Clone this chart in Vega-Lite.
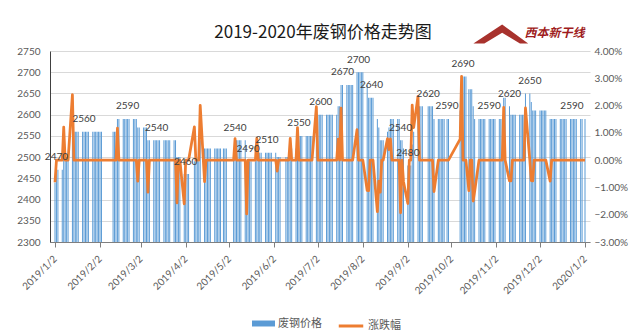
{
"$schema": "https://vega.github.io/schema/vega-lite/v6.json",
"width": 540, "height": 191,
"autosize": "none",
"padding": {"left": 50, "top": 51, "right": 54, "bottom": 92},
"background": "white",
"title": {"text": "2019-2020年废钢价格走势图", "font": "Noto Sans CJK SC", "fontSize": 17, "fontWeight": "normal", "color": "#1a1a1a", "anchor": "middle", "dx": 3, "dy": 26, "offset": 8},
"config": {"view": {"stroke": null}, "axis": {"labelFont": "Lato", "labelFontSize": 10, "labelColor": "#595959"}},
"datasets": {
"price": [
{"d":"2019/1/2","p":2440,"c":-0.81},{"d":"2019/1/3","p":2470,"c":0},{"d":"2019/1/4","p":2470,"c":0},{"d":"2019/1/7","p":2470,"c":0},{"d":"2019/1/8","p":2500,"c":1.21},{"d":"2019/1/9","p":2500,"c":0},{"d":"2019/1/10","p":2500,"c":0},{"d":"2019/1/11","p":2500,"c":0},{"d":"2019/1/14","p":2560,"c":2.4},{"d":"2019/1/15","p":2560,"c":0},{"d":"2019/1/16","p":2560,"c":0},{"d":"2019/1/17","p":2560,"c":0},{"d":"2019/1/18","p":2560,"c":0},{"d":"2019/1/21","p":2560,"c":0},{"d":"2019/1/22","p":2560,"c":0},{"d":"2019/1/23","p":2560,"c":0},{"d":"2019/1/24","p":2560,"c":0},{"d":"2019/1/25","p":2560,"c":0},{"d":"2019/1/28","p":2560,"c":0},{"d":"2019/1/29","p":2560,"c":0},{"d":"2019/1/30","p":2560,"c":0},{"d":"2019/1/31","p":2560,"c":0},
{"d":"2019/2/1","p":2560,"c":0},{"d":"2019/2/2","p":2560,"c":0},{"d":"2019/2/3","p":2560,"c":0},{"d":"2019/2/11","p":2560,"c":0},{"d":"2019/2/12","p":2560,"c":0},{"d":"2019/2/13","p":2560,"c":0},{"d":"2019/2/14","p":2590,"c":1.17},{"d":"2019/2/15","p":2590,"c":0},{"d":"2019/2/18","p":2590,"c":0},{"d":"2019/2/19","p":2590,"c":0},{"d":"2019/2/20","p":2590,"c":0},{"d":"2019/2/21","p":2590,"c":0},{"d":"2019/2/22","p":2590,"c":0},{"d":"2019/2/25","p":2590,"c":0},{"d":"2019/2/26","p":2590,"c":0},{"d":"2019/2/27","p":2590,"c":0},{"d":"2019/2/28","p":2570,"c":-0.77},
{"d":"2019/3/1","p":2570,"c":0},{"d":"2019/3/4","p":2570,"c":0},{"d":"2019/3/5","p":2570,"c":0},{"d":"2019/3/6","p":2570,"c":0},{"d":"2019/3/7","p":2540,"c":-1.17},{"d":"2019/3/8","p":2540,"c":0},{"d":"2019/3/11","p":2540,"c":0},{"d":"2019/3/12","p":2540,"c":0},{"d":"2019/3/13","p":2540,"c":0},{"d":"2019/3/14","p":2540,"c":0},{"d":"2019/3/15","p":2540,"c":0},{"d":"2019/3/18","p":2540,"c":0},{"d":"2019/3/19","p":2540,"c":0},{"d":"2019/3/20","p":2540,"c":0},{"d":"2019/3/21","p":2540,"c":0},{"d":"2019/3/22","p":2540,"c":0},{"d":"2019/3/25","p":2540,"c":0},{"d":"2019/3/26","p":2540,"c":0},{"d":"2019/3/27","p":2500,"c":-1.57},{"d":"2019/3/28","p":2500,"c":0},{"d":"2019/3/29","p":2500,"c":0},
{"d":"2019/4/1","p":2460,"c":-1.6},{"d":"2019/4/2","p":2460,"c":0},{"d":"2019/4/3","p":2460,"c":0},{"d":"2019/4/4","p":2460,"c":0},{"d":"2019/4/8","p":2490,"c":1.22},{"d":"2019/4/9","p":2490,"c":0},{"d":"2019/4/10","p":2490,"c":0},{"d":"2019/4/11","p":2490,"c":0},{"d":"2019/4/12","p":2540,"c":2.01},{"d":"2019/4/15","p":2520,"c":-0.79},{"d":"2019/4/16","p":2520,"c":0},{"d":"2019/4/17","p":2520,"c":0},{"d":"2019/4/18","p":2520,"c":0},{"d":"2019/4/19","p":2520,"c":0},{"d":"2019/4/22","p":2520,"c":0},{"d":"2019/4/23","p":2520,"c":0},{"d":"2019/4/24","p":2520,"c":0},{"d":"2019/4/25","p":2520,"c":0},{"d":"2019/4/26","p":2520,"c":0},{"d":"2019/4/28","p":2520,"c":0},{"d":"2019/4/29","p":2520,"c":0},{"d":"2019/4/30","p":2520,"c":0},
{"d":"2019/5/5","p":2520,"c":0},{"d":"2019/5/6","p":2540,"c":0.79},{"d":"2019/5/7","p":2540,"c":0},{"d":"2019/5/8","p":2540,"c":0},{"d":"2019/5/9","p":2540,"c":0},{"d":"2019/5/10","p":2540,"c":0},{"d":"2019/5/13","p":2540,"c":0},{"d":"2019/5/14","p":2490,"c":-1.97},{"d":"2019/5/15","p":2490,"c":0},{"d":"2019/5/16","p":2490,"c":0},{"d":"2019/5/17","p":2490,"c":0},{"d":"2019/5/20","p":2490,"c":0},{"d":"2019/5/21","p":2510,"c":0.8},{"d":"2019/5/22","p":2510,"c":0},{"d":"2019/5/23","p":2510,"c":0},{"d":"2019/5/24","p":2510,"c":0},{"d":"2019/5/27","p":2510,"c":0},{"d":"2019/5/28","p":2510,"c":0},{"d":"2019/5/29","p":2510,"c":0},{"d":"2019/5/30","p":2510,"c":0},{"d":"2019/5/31","p":2510,"c":0},
{"d":"2019/6/3","p":2510,"c":0},{"d":"2019/6/4","p":2500,"c":-0.4},{"d":"2019/6/5","p":2500,"c":0},{"d":"2019/6/6","p":2500,"c":0},{"d":"2019/6/10","p":2500,"c":0},{"d":"2019/6/11","p":2500,"c":0},{"d":"2019/6/12","p":2500,"c":0},{"d":"2019/6/13","p":2520,"c":0.8},{"d":"2019/6/14","p":2520,"c":0},{"d":"2019/6/17","p":2520,"c":0},{"d":"2019/6/18","p":2550,"c":1.19},{"d":"2019/6/19","p":2550,"c":0},{"d":"2019/6/20","p":2550,"c":0},{"d":"2019/6/21","p":2550,"c":0},{"d":"2019/6/24","p":2550,"c":0},{"d":"2019/6/25","p":2550,"c":0},{"d":"2019/6/26","p":2550,"c":0},{"d":"2019/6/27","p":2550,"c":0},{"d":"2019/6/28","p":2550,"c":0},
{"d":"2019/7/1","p":2600,"c":1.96},{"d":"2019/7/2","p":2600,"c":0},{"d":"2019/7/3","p":2600,"c":0},{"d":"2019/7/4","p":2600,"c":0},{"d":"2019/7/5","p":2600,"c":0},{"d":"2019/7/8","p":2600,"c":0},{"d":"2019/7/9","p":2600,"c":0},{"d":"2019/7/10","p":2600,"c":0},{"d":"2019/7/11","p":2600,"c":0},{"d":"2019/7/12","p":2600,"c":0},{"d":"2019/7/15","p":2600,"c":0},{"d":"2019/7/16","p":2620,"c":0.77},{"d":"2019/7/17","p":2620,"c":0},{"d":"2019/7/18","p":2670,"c":1.91},{"d":"2019/7/19","p":2670,"c":0},{"d":"2019/7/22","p":2670,"c":0},{"d":"2019/7/23","p":2670,"c":0},{"d":"2019/7/24","p":2670,"c":0},{"d":"2019/7/25","p":2670,"c":0},{"d":"2019/7/26","p":2670,"c":0},{"d":"2019/7/29","p":2700,"c":1.12},{"d":"2019/7/30","p":2700,"c":0},{"d":"2019/7/31","p":2700,"c":0},
{"d":"2019/8/1","p":2700,"c":0},{"d":"2019/8/2","p":2700,"c":0},{"d":"2019/8/5","p":2670,"c":-1.11},{"d":"2019/8/6","p":2640,"c":-1.12},{"d":"2019/8/7","p":2640,"c":0},{"d":"2019/8/8","p":2640,"c":0},{"d":"2019/8/9","p":2640,"c":0},{"d":"2019/8/12","p":2590,"c":-1.89},{"d":"2019/8/13","p":2570,"c":-0.77},{"d":"2019/8/14","p":2540,"c":-1.17},{"d":"2019/8/15","p":2540,"c":0},{"d":"2019/8/16","p":2540,"c":0},{"d":"2019/8/19","p":2560,"c":0.79},{"d":"2019/8/20","p":2570,"c":0.39},{"d":"2019/8/21","p":2590,"c":0.78},{"d":"2019/8/22","p":2590,"c":0},{"d":"2019/8/23","p":2590,"c":0},{"d":"2019/8/26","p":2590,"c":0},{"d":"2019/8/27","p":2590,"c":0},{"d":"2019/8/28","p":2540,"c":-1.93},{"d":"2019/8/29","p":2540,"c":0},{"d":"2019/8/30","p":2520,"c":-0.79},
{"d":"2019/9/2","p":2480,"c":-1.59},{"d":"2019/9/3","p":2480,"c":0},{"d":"2019/9/4","p":2480,"c":0},{"d":"2019/9/5","p":2530,"c":2.02},{"d":"2019/9/6","p":2560,"c":1.19},{"d":"2019/9/9","p":2620,"c":2.34},{"d":"2019/9/10","p":2620,"c":0},{"d":"2019/9/11","p":2620,"c":0},{"d":"2019/9/12","p":2620,"c":0},{"d":"2019/9/16","p":2620,"c":0},{"d":"2019/9/17","p":2620,"c":0},{"d":"2019/9/18","p":2620,"c":0},{"d":"2019/9/19","p":2620,"c":0},{"d":"2019/9/20","p":2590,"c":-1.15},{"d":"2019/9/23","p":2590,"c":0},{"d":"2019/9/24","p":2590,"c":0},{"d":"2019/9/25","p":2590,"c":0},{"d":"2019/9/26","p":2590,"c":0},{"d":"2019/9/27","p":2590,"c":0},{"d":"2019/9/29","p":2590,"c":0},{"d":"2019/9/30","p":2590,"c":0},
{"d":"2019/10/8","p":2610,"c":0.77},{"d":"2019/10/9","p":2690,"c":3.07},{"d":"2019/10/10","p":2690,"c":0},{"d":"2019/10/11","p":2690,"c":0},{"d":"2019/10/12","p":2690,"c":0},{"d":"2019/10/14","p":2660,"c":-1.12},{"d":"2019/10/15","p":2660,"c":0},{"d":"2019/10/16","p":2660,"c":0},{"d":"2019/10/17","p":2620,"c":-1.5},{"d":"2019/10/18","p":2590,"c":-1.15},{"d":"2019/10/21","p":2590,"c":0},{"d":"2019/10/22","p":2590,"c":0},{"d":"2019/10/23","p":2590,"c":0},{"d":"2019/10/24","p":2590,"c":0},{"d":"2019/10/25","p":2590,"c":0},{"d":"2019/10/28","p":2590,"c":0},{"d":"2019/10/29","p":2590,"c":0},{"d":"2019/10/30","p":2590,"c":0},{"d":"2019/10/31","p":2590,"c":0},
{"d":"2019/11/1","p":2590,"c":0},{"d":"2019/11/4","p":2590,"c":0},{"d":"2019/11/5","p":2590,"c":0},{"d":"2019/11/6","p":2590,"c":0},{"d":"2019/11/7","p":2640,"c":1.93},{"d":"2019/11/8","p":2640,"c":0},{"d":"2019/11/11","p":2620,"c":-0.76},{"d":"2019/11/12","p":2600,"c":-0.76},{"d":"2019/11/13","p":2600,"c":0},{"d":"2019/11/14","p":2600,"c":0},{"d":"2019/11/15","p":2600,"c":0},{"d":"2019/11/18","p":2600,"c":0},{"d":"2019/11/19","p":2600,"c":0},{"d":"2019/11/20","p":2600,"c":0},{"d":"2019/11/21","p":2600,"c":0},{"d":"2019/11/22","p":2650,"c":1.92},{"d":"2019/11/25","p":2650,"c":0},{"d":"2019/11/26","p":2630,"c":-0.75},{"d":"2019/11/27","p":2610,"c":-0.76},{"d":"2019/11/28","p":2610,"c":0},{"d":"2019/11/29","p":2610,"c":0},
{"d":"2019/12/2","p":2610,"c":0},{"d":"2019/12/3","p":2610,"c":0},{"d":"2019/12/4","p":2610,"c":0},{"d":"2019/12/5","p":2610,"c":0},{"d":"2019/12/6","p":2610,"c":0},{"d":"2019/12/9","p":2590,"c":-0.77},{"d":"2019/12/10","p":2590,"c":0},{"d":"2019/12/11","p":2590,"c":0},{"d":"2019/12/12","p":2590,"c":0},{"d":"2019/12/13","p":2590,"c":0},{"d":"2019/12/16","p":2590,"c":0},{"d":"2019/12/17","p":2590,"c":0},{"d":"2019/12/18","p":2590,"c":0},{"d":"2019/12/19","p":2590,"c":0},{"d":"2019/12/20","p":2590,"c":0},{"d":"2019/12/23","p":2590,"c":0},{"d":"2019/12/24","p":2590,"c":0},{"d":"2019/12/25","p":2590,"c":0},{"d":"2019/12/26","p":2590,"c":0},{"d":"2019/12/27","p":2590,"c":0},{"d":"2019/12/30","p":2590,"c":0},{"d":"2019/12/31","p":2590,"c":0},{"d":"2020/1/2","p":2590,"c":0}
],
"labs": [
{"d":"2019/1/3","p":2470},{"d":"2019/1/22","p":2560},{"d":"2019/2/21","p":2590},{"d":"2019/3/13","p":2540},{"d":"2019/4/2","p":2460},{"d":"2019/5/6","p":2540},{"d":"2019/5/15","p":2490},{"d":"2019/5/28","p":2510},{"d":"2019/6/19","p":2550},{"d":"2019/7/4","p":2600},{"d":"2019/7/19","p":2670},{"d":"2019/7/30","p":2700},{"d":"2019/8/8","p":2640},{"d":"2019/8/28","p":2540},{"d":"2019/9/2","p":2480},{"d":"2019/9/16","p":2620},{"d":"2019/9/29","p":2590},{"d":"2019/10/10","p":2690},{"d":"2019/10/28","p":2590},{"d":"2019/11/11","p":2620},{"d":"2019/11/25","p":2650},{"d":"2019/12/24","p":2590}
]
},
"layer": [
{
"layer": [
{
"data": {"name": "price"},
"mark": {"type": "bar", "width": 1.0, "color": "#5B9BD5"},
"encoding": {
"x": {"field": "d", "type": "temporal",
"scale": {"domain": [{"year": 2019, "month": 1, "date": 2}, {"year": 2020, "month": 1, "date": 2}]},
"axis": {"title": null, "format": "%Y/%-m/%-d", "labelAngle": -45, "labelAlign": "right", "labelBaseline": "middle", "labelPadding": 10, "labelOverlap": false, "grid": false, "domainColor": "#7f7f7f", "tickColor": "#7f7f7f", "tickSize": 5,
"values": [{"year":2019,"month":1,"date":2},{"year":2019,"month":2,"date":2},{"year":2019,"month":3,"date":2},{"year":2019,"month":4,"date":2},{"year":2019,"month":5,"date":2},{"year":2019,"month":6,"date":2},{"year":2019,"month":7,"date":2},{"year":2019,"month":8,"date":2},{"year":2019,"month":9,"date":2},{"year":2019,"month":10,"date":2},{"year":2019,"month":11,"date":2},{"year":2019,"month":12,"date":2},{"year":2020,"month":1,"date":2}]}},
"y": {"field": "p", "type": "quantitative", "scale": {"domain": [2300, 2750], "zero": false, "nice": false},
"axis": {"title": null, "orient": "left", "tickCount": 10, "labelExpr": "'' + datum.value", "labelOverlap": false, "labelFlush": false, "labelBound": false, "grid": true, "gridColor": "#D9D9D9", "ticks": false, "domain": true, "domainColor": "#404040", "labelPadding": 10}},
"y2": {"datum": 2300},
"fill": {"datum": "废钢价格", "scale": {"range": ["#5B9BD5"]},
"legend": {"orient": "none", "legendX": 202, "legendY": 261, "title": null, "padding": 0, "symbolType": "M-1,-0.26H1V0.26H-1Z", "symbolSize": 529, "symbolStrokeWidth": 0, "labelFont": "Noto Sans CJK SC", "labelFontSize": 11, "labelColor": "#595959", "labelOffset": 3}}
}
},
{
"data": {"values": [{}]},
"mark": {"type": "point", "shape": "M-1,0.35L0.05,-0.35L1,0.35L0.7,0.35L0.05,-0.05L-0.6,0.35Z", "size": 3000, "filled": true, "color": "#A8322D", "opacity": 1},
"encoding": {"x": {"datum": {"year": 2019, "month": 11, "date": 5}, "type": "temporal"}, "y": {"datum": 2790, "type": "quantitative"}}
},
{
"data": {"values": [{}]},
"mark": {"type": "text", "text": "西本新干线", "font": "Noto Sans CJK SC", "fontSize": 12, "fontWeight": "bold", "fontStyle": "italic", "color": "#9E1B20", "baseline": "middle"},
"encoding": {"x": {"datum": {"year": 2019, "month": 12, "date": 12}, "type": "temporal"}, "y": {"datum": 2792, "type": "quantitative"}}
}
]
},
{
"data": {"name": "price"},
"mark": {"type": "line", "strokeWidth": 2.75, "strokeJoin": "round"},
"encoding": {
"x": {"field": "d", "type": "temporal"},
"y": {"field": "c", "type": "quantitative", "scale": {"domain": [-3, 4], "zero": false, "nice": false},
"axis": {"title": null, "orient": "right", "values": [-3,-2,-1,0,1,2,3,4], "labelExpr": "format(datum.value, '.2f') + '%'", "grid": false, "domain": false, "ticks": false, "labelPadding": 4}},
"stroke": {"datum": "涨跌幅", "scale": {"range": ["#ED7D31"]},
"legend": {"orient": "none", "legendX": 287, "legendY": 261, "title": null, "padding": 0, "symbolType": "stroke", "symbolSize": 600, "symbolStrokeWidth": 3, "labelFont": "Noto Sans CJK SC", "labelFontSize": 11, "labelColor": "#595959", "labelOffset": 3}}
}
},
{
"data": {"name": "labs"},
"mark": {"type": "text", "dy": -12.5, "baseline": "middle", "font": "Lato", "fontSize": 10, "color": "#404040"},
"encoding": {
"x": {"field": "d", "type": "temporal"},
"y": {"field": "p", "type": "quantitative", "scale": {"domain": [2300, 2750], "zero": false, "nice": false}, "axis": null},
"text": {"field": "p", "type": "quantitative", "format": "d"}
}
}
],
"resolve": {"scale": {"y": "independent"}}
}
